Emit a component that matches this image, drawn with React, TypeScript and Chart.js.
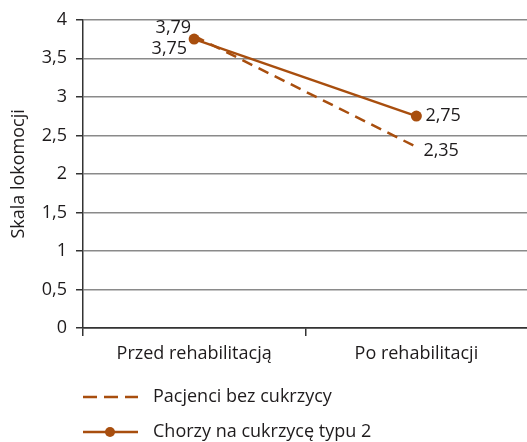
import React, { useEffect, useRef } from "react";
import { Chart, registerables } from "chart.js";
Chart.register(...registerables);

const categories = ["Przed rehabilitacją", "Po rehabilitacji"];
const seriesNames = ["Pacjenci bez cukrzycy", "Chorzy na cukrzycę typu 2"];
const bezCukrzycy = [3.79, 2.35];
const cukrzyca2 = [3.75, 2.75];
const yTicks = [0, 0.5, 1, 1.5, 2, 2.5, 3, 3.5, 4];
const yTitle = "Skala lokomocji";

const BROWN = "#A84E0E";
const TEXT = "#1e1b1c";
const FONT = "'Open Sans', 'Noto Sans', sans-serif";
const FS = 18;
const fmt = (v: number) => String(v).replace(".", ",");

const labelPlugin = {
  id: "valueLabels",
  afterDatasetsDraw(chart: any) {
    const ctx = chart.ctx;
    ctx.save();
    ctx.font = `${FS}px ${FONT}`;
    ctx.fillStyle = TEXT;
    ctx.textBaseline = "middle";
    chart.data.datasets.forEach((ds: any, di: number) => {
      const meta = chart.getDatasetMeta(di);
      meta.data.forEach((pt: any, i: number) => {
        const v = ds.data[i];
        if (i === 0) {
          ctx.textAlign = "right";
          const dy = di === 0 ? -8 : 10;
          ctx.fillText(fmt(v), pt.x - (di === 0 ? 3 : 7), pt.y + dy);
        } else {
          ctx.textAlign = "left";
          ctx.fillText(fmt(v), pt.x + (di === 0 ? 7 : 9), pt.y + (di === 0 ? 4 : 0));
        }
      });
    });
    ctx.restore();
  },
};

const legendPlugin = {
  id: "customLegend",
  afterDraw(chart: any) {
    const ctx = chart.ctx;
    ctx.save();
    const x0 = 83;
    const rows = [397, 432];
    chart.data.datasets.forEach((ds: any, di: number) => {
      const y = rows[di];
      ctx.strokeStyle = BROWN;
      ctx.lineWidth = 2.5;
      ctx.setLineDash(di === 0 ? [14, 7] : []);
      ctx.beginPath();
      ctx.moveTo(x0, y);
      ctx.lineTo(x0 + 55, y);
      ctx.stroke();
      ctx.setLineDash([]);
      if (di === 1) {
        ctx.fillStyle = BROWN;
        ctx.beginPath();
        ctx.arc(x0 + 27, y, 5, 0, Math.PI * 2);
        ctx.fill();
      }
      ctx.fillStyle = TEXT;
      ctx.font = `${FS}px ${FONT}`;
      ctx.textAlign = "left";
      ctx.textBaseline = "middle";
      ctx.fillText(ds.label, x0 + 70, y);
    });
    ctx.restore();
  },
};

export default function App() {
  const ref = useRef<HTMLCanvasElement>(null);
  useEffect(() => {
    const chart = new Chart(ref.current!, {
      type: "line",
      data: {
        labels: categories,
        datasets: [
          {
            label: seriesNames[0],
            data: bezCukrzycy,
            borderColor: BROWN,
            backgroundColor: BROWN,
            borderWidth: 2.5,
            borderDash: [11, 7],
            pointRadius: 0,
            fill: false,
          },
          {
            label: seriesNames[1],
            data: cukrzyca2,
            borderColor: BROWN,
            backgroundColor: BROWN,
            borderWidth: 2.5,
            pointRadius: 5.5,
            pointBorderWidth: 0,
            fill: false,
          },
        ],
      },
      options: {
        responsive: false,
        animation: false,
        layout: { padding: { top: 18, right: 0, bottom: 70, left: 0 } },
        plugins: { legend: { display: false }, tooltip: { enabled: false } },
        scales: {
          x: {
            offset: true,
            grid: {
              display: true,
              offset: true,
              drawOnChartArea: false,
              drawTicks: true,
              tickLength: 8,
              color: "#333",
              lineWidth: 1.5,
            },
            border: { color: "#333", width: 1.5 },
            ticks: { color: TEXT, font: { family: FONT, size: FS }, padding: 7, maxRotation: 0 },
            afterFit: (s: any) => {
              s.height = 44;
              s.paddingLeft = 0;
              s.paddingRight = 0;
            },
          },
          y: {
            min: 0,
            max: 4,
            afterBuildTicks: (s: any) => { s.ticks = yTicks.map((v) => ({ value: v })); },
            grid: {
              color: (c: any) => (c.tick && c.tick.value === 0 ? "#333" : "#8a8a8a"),
              lineWidth: 1.5,
              tickLength: 7,
              tickColor: "#333",
            },
            border: { color: "#333", width: 1.5 },
            ticks: {
              color: TEXT,
              font: { family: FONT, size: FS },
              padding: 9,
              callback: (v: any) => fmt(Number(v)),
            },
            title: {
              display: true,
              text: yTitle,
              color: TEXT,
              font: { family: FONT, size: FS },
              padding: { top: 8, bottom: 0 },
            },
            afterFit: (s: any) => { s.width = 83; },
          },
        },
      },
      plugins: [labelPlugin, legendPlugin],
    });
    return () => chart.destroy();
  }, []);
  return (
    <div style={{ position: "fixed", left: 0, top: 0, width: 527, height: 442, overflow: "hidden", background: "#fff" }}>
      <canvas ref={ref} width={533} height={442} style={{ width: 533, height: 442 }} />
    </div>
  );
}
